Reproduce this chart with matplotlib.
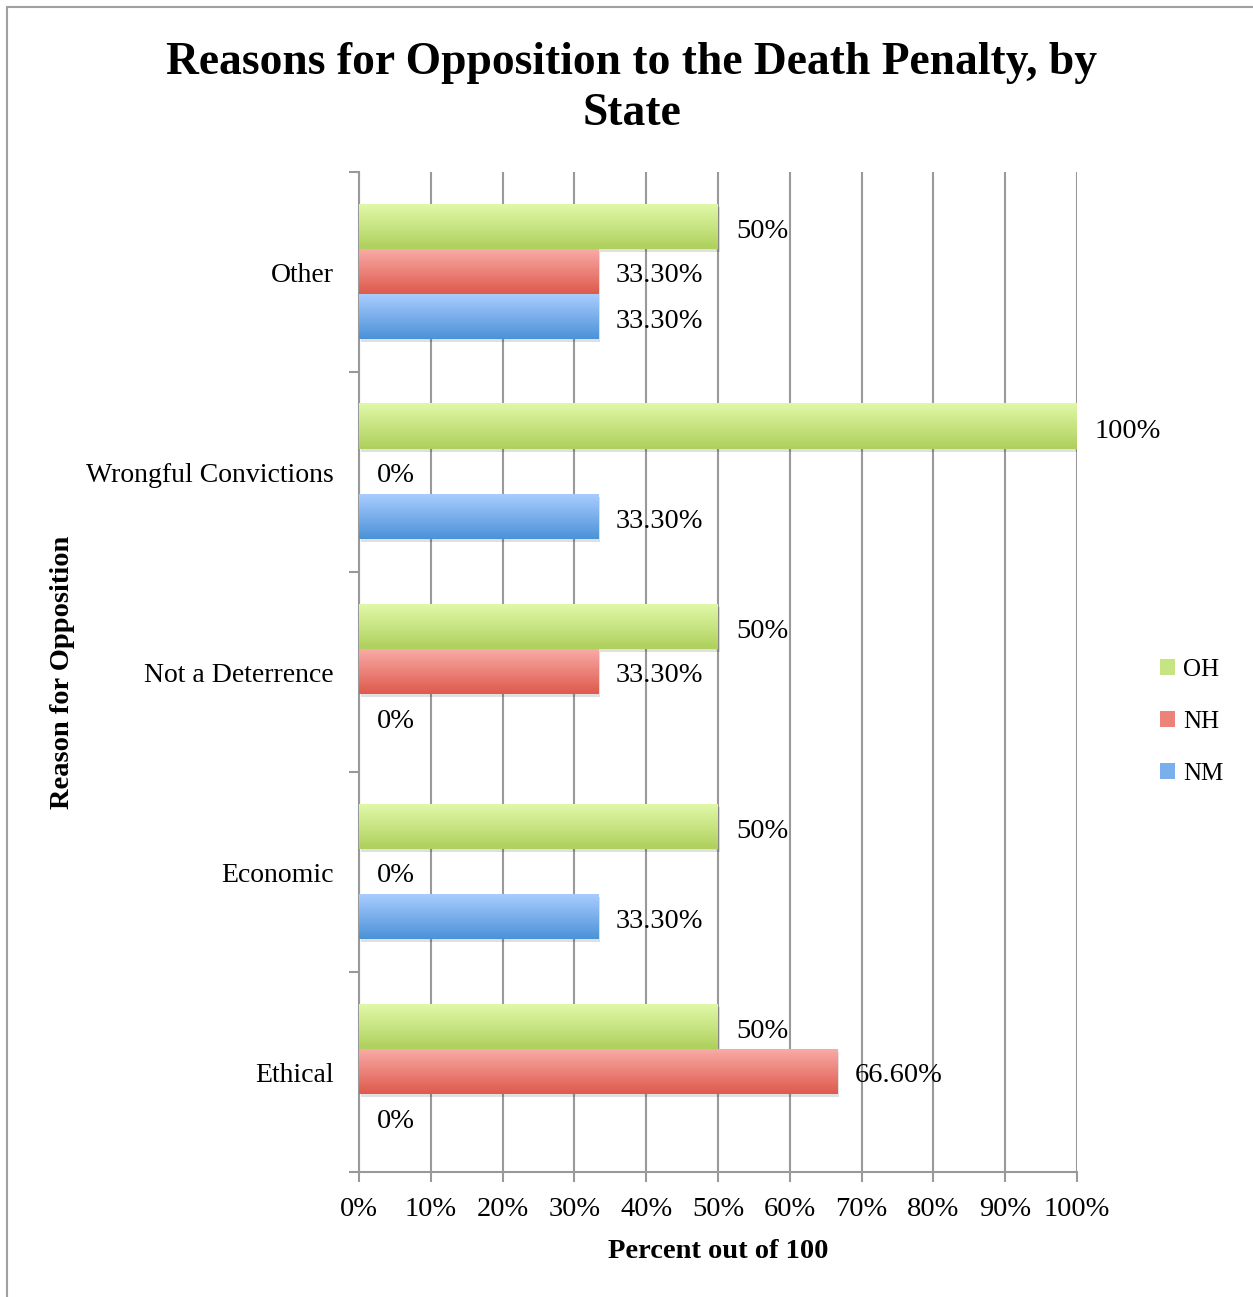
import numpy as np
import matplotlib
matplotlib.use('Agg')
import matplotlib.pyplot as plt
from matplotlib.patches import Patch, Rectangle
from matplotlib.colors import LinearSegmentedColormap

# data (bottom to top)
categories = ['Ethical', 'Economic', 'Not a Deterrence', 'Wrongful Convictions', 'Other']
states = ['OH', 'NH', 'NM']
oh = [50, 50, 50, 100, 50]
nh = [66.6, 0, 33.3, 0, 33.3]
nm = [0, 33.3, 0, 33.3, 33.3]
xticks = [0, 10, 20, 30, 40, 50, 60, 70, 80, 90, 100]

# gradient top colour, bottom colour
grads = {
    'OH': ('#e0f8a8', '#aed05c'),
    'NH': ('#f9aaa5', '#de5a4e'),
    'NM': ('#a8ccff', '#4c92d8'),
}

plt.rcParams['font.family'] = ['Liberation Serif', 'DejaVu Serif']

fig = plt.figure(figsize=(12.53, 12.97), dpi=100)
ax = fig.add_axes([359 / 1253, 125 / 1297, 718 / 1253, 1000 / 1297])

h = 0.225
y = np.arange(len(categories))
offsets = {'OH': h, 'NH': 0, 'NM': -h}
series = {'OH': oh, 'NH': nh, 'NM': nm}


def fmt(v):
    if float(v).is_integer():
        return '%d%%' % v
    return '%.2f%%' % v


for s in states:
    cmap = LinearSegmentedColormap.from_list(s, [grads[s][1], grads[s][0]])
    bars = ax.barh(y + offsets[s], series[s], height=h, color='none', zorder=3)
    for b, v in zip(bars, series[s]):
        x0, y0, w, hh = b.get_x(), b.get_y(), b.get_width(), b.get_height()
        if w > 0:
            # soft shadow
            ax.add_patch(Rectangle((x0 + 0.25, y0 - 0.012), w, hh, color='k',
                                   alpha=0.12, lw=0, zorder=2.5))
            grad = np.linspace(0, 1, 64).reshape(-1, 1)
            ax.imshow(grad, cmap=cmap, extent=[x0, x0 + w, y0, y0 + hh],
                      origin='lower', aspect='auto', zorder=3)
        ax.text(v + 2.5, y0 + hh / 2 - 0.02, fmt(v), va='center', ha='left',
                fontsize=20.5, zorder=4)

ax.set_xlim(0, 100)
ax.set_ylim(-0.5, len(categories) - 0.5)
ax.set_xticks(xticks)
ax.set_xticklabels(['%d%%' % t for t in xticks], fontsize=20.5)
ax.set_yticks(np.arange(-0.5, len(categories)), labels=[])
ax.set_yticks(y, labels=categories, minor=True)
ax.tick_params(axis='y', which='minor', length=0, pad=18, labelsize=20)
ax.tick_params(axis='y', which='major', length=7, color='#999999', width=1.5)
ax.tick_params(axis='x', length=7, color='#999999', width=1.5, pad=11)
ax.grid(axis='x', color='#999999', linewidth=1.5, zorder=0)
ax.set_axisbelow(True)
for sp in ['top', 'right']:
    ax.spines[sp].set_visible(False)
for sp in ['left', 'bottom']:
    ax.spines[sp].set_color('#999999')
    ax.spines[sp].set_linewidth(1.5)

ax.set_xlabel('Percent out of 100', fontsize=20.5, fontweight='bold', labelpad=12)
fig.text(63 / 1253, 1 - 672 / 1297, 'Reason for Opposition', rotation=90,
         ha='center', va='center', fontsize=20.5, fontweight='bold')

fig.text(0.504, 1 - 63 / 1297, 'Reasons for Opposition to the Death Penalty, by',
         ha='center', va='center', fontsize=32.8, fontweight='bold')
fig.text(0.504, 1 - 114 / 1297, 'State',
         ha='center', va='center', fontsize=32.8, fontweight='bold')

handles = []
for s in states:
    c1 = np.array(matplotlib.colors.to_rgb(grads[s][0]))
    c2 = np.array(matplotlib.colors.to_rgb(grads[s][1]))
    handles.append(Patch(facecolor=(c1 + c2) / 2, edgecolor='none'))
fig.legend(handles, states, loc='center left', frameon=False, fontsize=18,
           bbox_to_anchor=(1137 / 1253, 1 - 722 / 1297), handlelength=0.6,
           handleheight=0.6, handletextpad=0.35, labelspacing=1.2)

# outer border (only left and top visible)
fig.patches.append(Rectangle((6.5 / 1253, -0.1), 1.2, 1.1 - 6.5 / 1297,
                             transform=fig.transFigure, fill=False,
                             edgecolor='#a0a0a0', linewidth=1.5))

fig.savefig('out.png', dpi=100)
